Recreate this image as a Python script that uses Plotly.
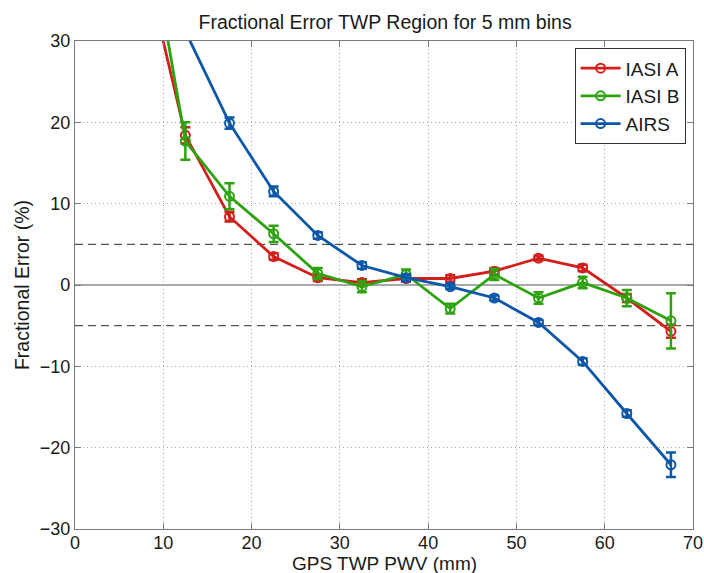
import plotly.graph_objects as go

x_bins = [7.5, 12.5, 17.5, 22.5, 27.5, 32.5, 37.5, 42.5, 47.5, 52.5, 57.5, 62.5, 67.5]

iasi_a = [41.5, 18.4, 8.4, 3.5, 0.9, 0.3, 0.8, 0.8, 1.7, 3.3, 2.1, -1.6, -5.7]
iasi_a_err = [1.0, 1.0, 0.6, 0.4, 0.4, 0.4, 0.4, 0.4, 0.4, 0.3, 0.4, 0.5, 0.8]

iasi_b = [49.0, 17.7, 10.9, 6.3, 1.4, -0.2, 1.3, -2.9, 1.3, -1.6, 0.3, -1.6, -4.4]
iasi_b_err = [2.0, 2.3, 1.6, 1.0, 0.7, 0.7, 0.6, 0.6, 0.7, 0.7, 0.7, 1.0, 3.4]

airs_x = [7.5, 17.5, 22.5, 27.5, 32.5, 37.5, 42.5, 47.5, 52.5, 57.5, 62.5, 67.5]
airs = [42.5, 19.9, 11.5, 6.1, 2.4, 0.9, -0.2, -1.6, -4.6, -9.4, -15.8, -22.1]
airs_err = [1.0, 0.7, 0.6, 0.4, 0.4, 0.4, 0.3, 0.3, 0.3, 0.4, 0.4, 1.5]

series = [
    ("IASI A", x_bins, iasi_a, iasi_a_err, "#d21f1b"),
    ("IASI B", x_bins, iasi_b, iasi_b_err, "#2ea310"),
    ("AIRS", airs_x, airs, airs_err, "#0d57a8"),
]

TXT = "#1a1a1a"
FONT = "Liberation Sans, Arial, sans-serif"

fig = go.Figure()

for name, xs, ys, es, col in series:
    fig.add_trace(go.Scatter(
        x=xs, y=ys, name=name, mode="lines+markers",
        line=dict(color=col, width=2.8),
        marker=dict(symbol="circle-open", size=9, color=col, line=dict(width=2, color=col)),
        error_y=dict(type="data", array=es, visible=True, color=col, thickness=2.5, width=5),
    ))

# reference lines
fig.add_hline(y=0, line=dict(color="#8c8c8c", width=1.6), layer="below")
fig.add_hline(y=5, line=dict(color="#555555", width=1.3, dash="8px,5px"), layer="below")
fig.add_hline(y=-5, line=dict(color="#555555", width=1.3, dash="8px,5px"), layer="below")

axis_common = dict(
    showline=True, linecolor="#7a7a7a", linewidth=1.4, mirror="ticks",
    ticks="inside", ticklen=6, tickcolor="#7a7a7a", tickwidth=1.2,
    showgrid=True, gridcolor="#a8a8a8", griddash="1px,3px", gridwidth=1,
    zeroline=False, automargin=False,
    tickfont=dict(size=18, color=TXT, family=FONT),
)

fig.update_xaxes(range=[0, 70], dtick=10, ticklabelstandoff=-3, **axis_common)
fig.update_yaxes(range=[-30, 30], dtick=10,
                 title=dict(text="Fractional Error (%)", font=dict(size=19.5, color=TXT, family=FONT), standoff=4),
                 **axis_common)

# x-axis title as annotation (placed just below tick labels)
fig.add_annotation(text="GPS TWP PWV (mm)", xref="paper", yref="paper",
                   x=0.5, y=-0.071, xanchor="center", yanchor="middle",
                   showarrow=False, font=dict(size=19, color=TXT, family=FONT))

fig.update_layout(
    width=704, height=573,
    margin=dict(l=75, r=11, t=41, b=44),
    paper_bgcolor="white", plot_bgcolor="white",
    font=dict(family=FONT, color=TXT),
    title=dict(text="Fractional Error TWP Region for 5 mm bins", x=0.547, xanchor="center",
               y=0.962, yanchor="middle", font=dict(size=19.5, color=TXT, family=FONT)),
    legend=dict(x=0.988, y=0.985, xanchor="right", yanchor="top",
                bgcolor="white", bordercolor="#333333", borderwidth=1,
                font=dict(size=19, color=TXT, family=FONT), tracegroupgap=0,
                itemwidth=40),
    showlegend=True,
)

fig.write_html(
    "out.html",
    config={"displayModeBar": False},
    post_script="document.body.style.margin='0';document.body.style.overflow='hidden';",
)
